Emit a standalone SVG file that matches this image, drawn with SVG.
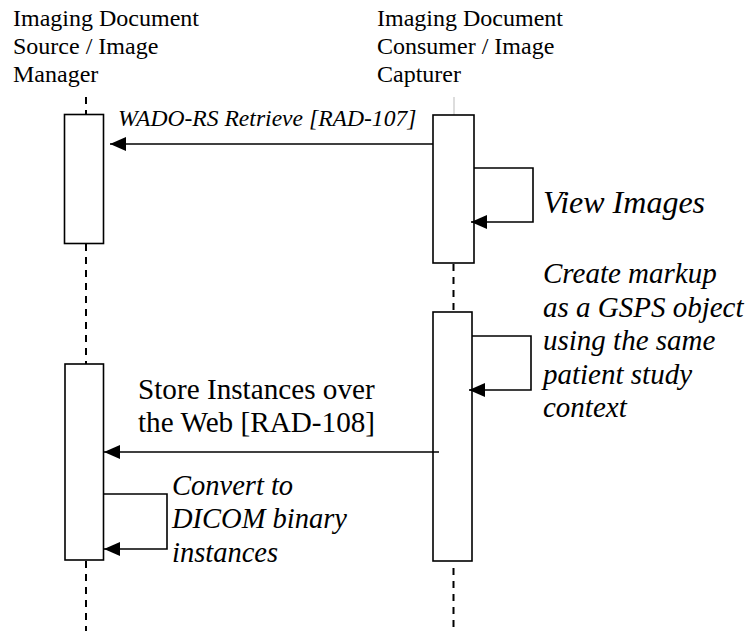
<svg xmlns="http://www.w3.org/2000/svg" width="749" height="631" viewBox="0 0 749 631">
<style>
text{font-family:"Liberation Serif","Times New Roman",serif;fill:#000}
.hdr{font-size:24px}
.it{font-style:italic}
.box{fill:#fff;stroke:#000;stroke-width:1.6}
.life{stroke:#000;stroke-width:2;stroke-dasharray:7 6;fill:none}
.msg{stroke:#000;stroke-width:1.6;fill:none}
</style>
<defs>
<marker id="ah" markerWidth="16" markerHeight="14" refX="16" refY="7" orient="auto" markerUnits="userSpaceOnUse">
<path d="M0,0 L16,7 L0,14 Z" fill="#000"/>
</marker>
</defs>
<g id="lifelines">
<line class="life" x1="86" y1="97" x2="86" y2="114"/>
<line x1="454" y1="97" x2="454" y2="115" stroke="#bbb" stroke-width="1"/>
<line class="life" x1="86" y1="244" x2="86" y2="364"/>
<line class="life" x1="453.5" y1="264" x2="453.5" y2="312"/>
<line class="life" x1="86" y1="561" x2="86" y2="631"/>
<line class="life" x1="453.5" y1="568" x2="453.5" y2="631"/>
</g>
<g id="source-manager">
<text class="hdr" x="13" y="26">Imaging Document</text>
<text class="hdr" x="13" y="54">Source / Image</text>
<text class="hdr" x="13" y="82">Manager</text>
<rect class="box" x="64.5" y="114.5" width="39" height="129"/>
<rect class="box" x="65" y="364" width="38.5" height="196"/>
</g>
<g id="consumer-capturer">
<text class="hdr" x="377" y="26">Imaging Document</text>
<text class="hdr" x="377" y="54">Consumer / Image</text>
<text class="hdr" x="377" y="82">Capturer</text>
<rect class="box" x="433" y="115" width="41" height="148"/>
<rect class="box" x="433" y="312" width="39" height="249"/>
</g>
<g id="connectors">
<line class="msg" x1="433" y1="144" x2="110" y2="144" marker-end="url(#ah)"/>
<polyline class="msg" points="474,168 533,168 533,222 471,222" marker-end="url(#ah)"/>
<polyline class="msg" points="472,336 531,336 531,390 469,390" marker-end="url(#ah)"/>
<line class="msg" x1="439" y1="452" x2="104" y2="452" marker-end="url(#ah)"/>
<polyline class="msg" points="104,494 167,494 167,549 104,549" marker-end="url(#ah)"/>
</g>
<g id="labels">
<text class="it" x="118" y="126" font-size="23.6">WADO-RS Retrieve [RAD-107]</text>
<text class="it" x="543" y="213" font-size="32">View Images</text>
<g font-size="29">
<text class="it" x="543" y="283">Create markup</text>
<text class="it" x="543" y="317">as a GSPS object</text>
<text class="it" x="543" y="350">using the same</text>
<text class="it" x="543" y="384">patient study</text>
<text class="it" x="543" y="417">context</text>
</g>
<text x="138" y="399" font-size="29.2">Store Instances over</text>
<text x="138" y="432" font-size="29.2">the Web [RAD-108]</text>
<text class="it" x="172" y="495" font-size="28.5">Convert to</text>
<text class="it" x="172" y="528" font-size="28.5">DICOM binary</text>
<text class="it" x="172" y="562" font-size="28.5">instances</text>
</g>
</svg>
